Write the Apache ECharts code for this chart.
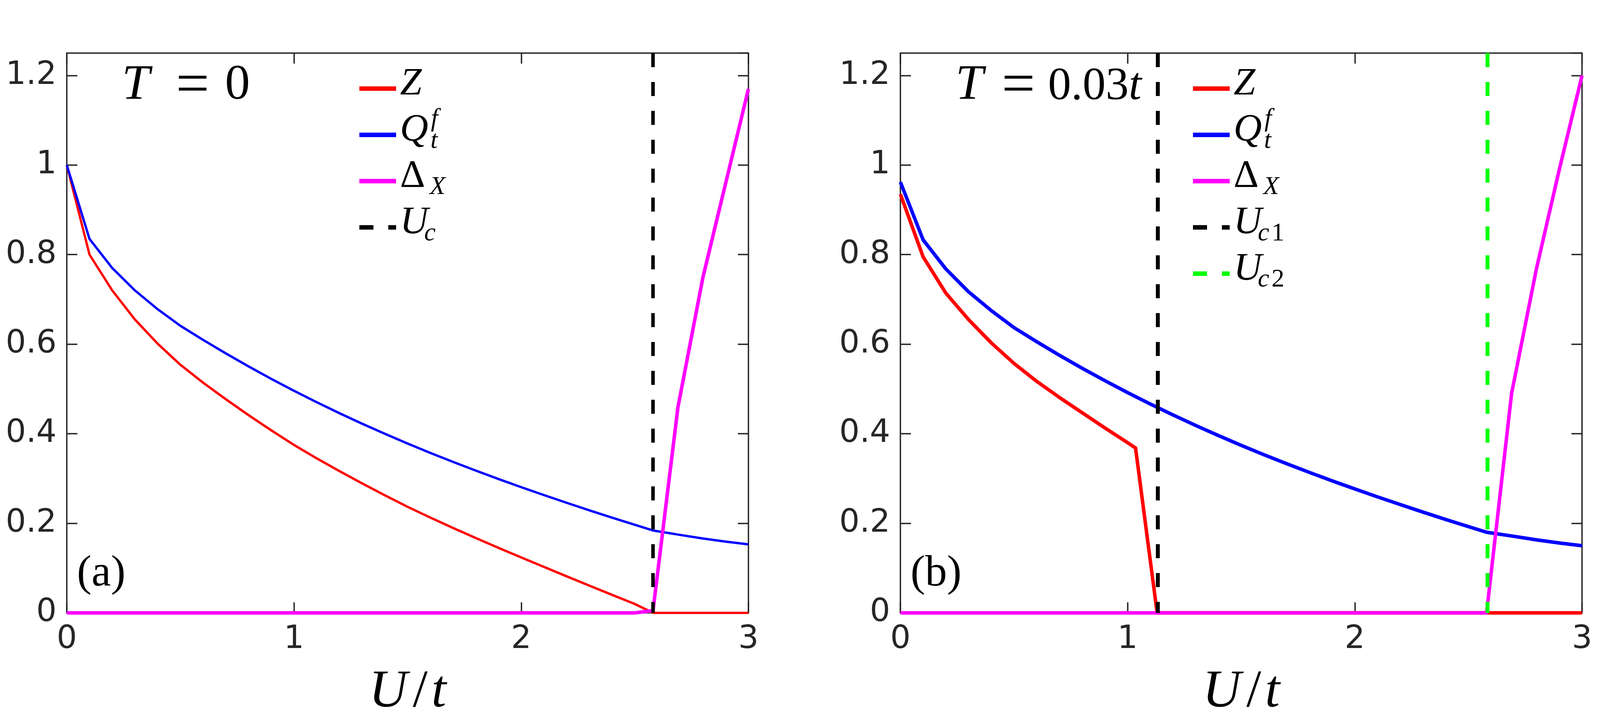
<!DOCTYPE html>
<html>
<head>
<meta charset="utf-8">
<script src="https://cdn.jsdelivr.net/npm/echarts@6/dist/echarts.min.js"></script>
<style>
html,body{margin:0;padding:0;background:#ffffff;}
#chart{width:4262px;height:1847px;}
</style>
</head>
<body>
<div id="chart"></div>
<script>
// ---------------- data ----------------
// Panel (a): T = 0
const U_A   = [0,0.1,0.2,0.3,0.4,0.5,0.6,0.7,0.8,0.9,1.0,1.1,1.2,1.3,1.4,1.5,1.6,1.7,1.8,1.9,2.0,2.1,2.2,2.3,2.4,2.5,2.58,2.7,2.8,2.9,3.0];
const Z_A   = [1.0,0.80,0.72,0.655,0.601,0.554,0.514,0.477,0.4415,0.4075,0.375,0.345,0.3165,0.289,0.2625,0.2368,0.2128,0.1896,0.1671,0.1452,0.1238,0.1026,0.0816,0.0608,0.0402,0.0198,0,0,0,0,0];
const Q_A   = [1.0,0.835,0.77,0.72,0.678,0.641,0.6095,0.5793,0.5503,0.5225,0.4959,0.4704,0.4459,0.4224,0.3998,0.3781,0.3572,0.3371,0.3177,0.2989,0.2807,0.263,0.2458,0.229,0.2126,0.1966,0.184,0.174,0.166,0.159,0.153];
const D_A_U = [0,2.5,2.58,2.69,2.8,2.9,3.0];
const D_A   = [0,0,0.005,0.46,0.75,0.96,1.17];
const UC_A  = 2.58;

// Panel (b): T = 0.03t
const Z_B_U = [0,0.1,0.2,0.3,0.4,0.5,0.6,0.7,0.8,0.9,1.0,1.035,1.13,3.0];
const Z_B   = [0.935,0.795,0.714,0.655,0.603,0.557,0.517,0.481,0.447,0.413,0.38,0.368,0,0];
const U_B   = [0,0.1,0.2,0.3,0.4,0.5,0.6,0.7,0.8,0.9,1.0,1.1,1.2,1.3,1.4,1.5,1.6,1.7,1.8,1.9,2.0,2.1,2.2,2.3,2.4,2.5,2.58,2.7,2.8,2.9,3.0];
const Q_B   = [0.962,0.833,0.768,0.717,0.675,0.637,0.6055,0.5753,0.5463,0.5185,0.4919,0.4664,0.4419,0.4184,0.3958,0.3741,0.3532,0.3331,0.3137,0.2949,0.2767,0.259,0.2418,0.225,0.2086,0.1926,0.18,0.171,0.163,0.156,0.15];
const D_B_U = [0,2.58,2.69,2.8,2.9,3.0];
const D_B   = [0,0,0.49,0.77,0.99,1.2];
const UC1_B = 1.133;
const UC2_B = 2.584;

// dashed marker lines span the full y range
const DASH_Y  = [1.25, 0];

// axes
const X_RANGE = [0, 3];
const X_STEP  = 1;
const Y_RANGE = [0, 1.25];
const Y_STEP  = 0.2;

// ---------------- layout / style ----------------
const GRIDS = [
  {left: 171, top: 136, width: 1745, height: 1435},
  {left: 2305, top: 136, width: 1745, height: 1435}
];
const AXIS_COLOR = '#262626';
const SERIF = 'Liberation Serif';
const SANS = 'DejaVu Sans';
const DASH = [36, 38];
const MID = 0.3375; // canvas "middle" offset above the baseline, in em

function pairs(xs, ys) { return xs.map((x, k) => [x, ys[k]]); }
function vline(x) { return DASH_Y.map(y => [x, y]); }

function lineSeries(name, data, color, width, gi, dash, z) {
  return {
    name: name, type: 'line', xAxisIndex: gi * 2, yAxisIndex: gi * 2,
    data: data, symbol: 'none', showSymbol: false, clip: false, silent: true,
    animation: false, z: z,
    lineStyle: {color: color, width: width, type: dash || 'solid', cap: 'butt', join: 'round'},
    itemStyle: {color: color},
    emphasis: {disabled: true}
  };
}

function yLabel(v) {
  const r = Math.round(v / Y_STEP);
  if (Math.abs(v - r * Y_STEP) > 1e-6) return '';
  return String(+(r * Y_STEP).toFixed(1));
}

const xAxes = [], yAxes = [];
GRIDS.forEach((g, i) => {
  const tick = {show: true, inside: true, length: 27, lineStyle: {color: AXIS_COLOR, width: 3.5}};
  const line = {show: true, onZero: false, lineStyle: {color: AXIS_COLOR, width: 3.5}};
  xAxes.push({
    type: 'value', gridIndex: i, position: 'bottom', min: X_RANGE[0], max: X_RANGE[1], interval: X_STEP,
    axisLine: line, axisTick: tick, splitLine: {show: false},
    axisLabel: {fontFamily: SANS, fontSize: 82, color: AXIS_COLOR, margin: 28},
    name: '{i|U}{r|/}{i|t}', nameLocation: 'middle', nameGap: 136,
    nameTextStyle: {
      fontFamily: SERIF, fontSize: 136, color: '#000',
      rich: {
        i: {fontFamily: SERIF, fontStyle: 'italic', fontSize: 136, color: '#000'},
        r: {fontFamily: SERIF, fontSize: 136, color: '#000', padding: [0, 10, 0, 14]}
      }
    }
  });
  xAxes.push({
    type: 'value', gridIndex: i, position: 'top', min: X_RANGE[0], max: X_RANGE[1], interval: X_STEP,
    axisLine: line, axisTick: tick, splitLine: {show: false}, axisLabel: {show: false}
  });
  yAxes.push({
    type: 'value', gridIndex: i, position: 'left', min: Y_RANGE[0], max: Y_RANGE[1], interval: Y_STEP,
    axisLine: line, axisTick: tick, splitLine: {show: false},
    axisLabel: {fontFamily: SANS, fontSize: 82, color: AXIS_COLOR, margin: 26, formatter: yLabel, showMaxLabel: false}
  });
  yAxes.push({
    type: 'value', gridIndex: i, position: 'right', min: Y_RANGE[0], max: Y_RANGE[1], interval: Y_STEP,
    axisLine: line, axisTick: tick, splitLine: {show: false}, axisLabel: {show: false}
  });
});

const series = [
  lineSeries('Z', pairs(U_A, Z_A), '#ff0000', 6, 0, null, 2),
  lineSeries('Q_t^f', pairs(U_A, Q_A), '#0000ff', 6, 0, null, 3),
  lineSeries('Δ_X', pairs(D_A_U, D_A), '#ff00ff', 9, 0, null, 4),
  lineSeries('U_c', vline(UC_A), '#000000', 9, 0, DASH, 5),
  lineSeries('Z (b)', pairs(Z_B_U, Z_B), '#ff0000', 9, 1, null, 2),
  lineSeries('Q_t^f (b)', pairs(U_B, Q_B), '#0000ff', 9, 1, null, 3),
  lineSeries('Δ_X (b)', pairs(D_B_U, D_B), '#ff00ff', 9, 1, null, 4),
  lineSeries('U_c1', vline(UC1_B), '#000000', 10, 1, DASH, 5),
  lineSeries('U_c2', vline(UC2_B), '#00ff00', 10, 1, DASH, 5)
];

// ---------------- text helpers ----------------
function txtBase(x, baseline, text, size, italic, align) {
  return {
    type: 'text', x: x, y: baseline - MID * size, silent: true, z: 100,
    style: {text: text, fontFamily: SERIF, fontSize: size, fontStyle: italic ? 'italic' : 'normal',
            fill: '#000', align: align || 'left', verticalAlign: 'middle'}
  };
}

const graphics = [];

// ---------------- legend (keys + math labels) ----------------
const LEG_X = 749;          // offset of key lines from the grid's left edge
const LEG_Y0 = 227, LEG_DY = 118.5;
const LEG_ROWS = [
  [
    {color: '#ff0000', main: 'Z', it: true},
    {color: '#0000ff', main: 'Q', it: true, sub: [['t', true, 182]], sup: ['f', 183]},
    {color: '#ff00ff', main: 'Δ', it: false, sub: [['X', true, 180]]},
    {color: '#000000', main: 'U', it: true, dash: true, sub: [['c', true, 166]]}
  ],
  [
    {color: '#ff0000', main: 'Z', it: true},
    {color: '#0000ff', main: 'Q', it: true, sub: [['t', true, 182]], sup: ['f', 183]},
    {color: '#ff00ff', main: 'Δ', it: false, sub: [['X', true, 180]]},
    {color: '#000000', main: 'U', it: true, dash: true, sub: [['c', true, 166], ['1', false, 201]]},
    {color: '#00ff00', main: 'U', it: true, dash: true, sub: [['c', true, 166], ['2', false, 201]]}
  ]
];
GRIDS.forEach((g, gi) => {
  const L = g.left + LEG_X;
  LEG_ROWS[gi].forEach((row, r) => {
    const y = LEG_Y0 + r * LEG_DY;
    graphics.push({
      type: 'line', silent: true, z: 100,
      shape: {x1: L, y1: y, x2: L + 94, y2: y},
      style: {stroke: row.color, lineWidth: 11.5, lineDash: row.dash ? DASH : null, lineCap: 'butt'}
    });
    const base = y + 22;
    graphics.push(txtBase(L + 104, base, row.main, 100, row.it, 'left'));
    (row.sub || []).forEach(s => graphics.push(txtBase(L + s[2], base + 16, s[0], 66, s[1], 'left')));
    if (row.sup) graphics.push(txtBase(L + row.sup[1], base - 40, row.sup[0], 66, true, 'left'));
  });
});

// ---------------- panel annotations ----------------
GRIDS.forEach((g, i) => {
  graphics.push(txtBase(g.left + 26, 1508, i === 0 ? '(a)' : '(b)', 112, false, 'left'));
  graphics.push(txtBase(g.left + 141, 263, 'T', 128, true, 'left'));
});
graphics.push(txtBase(GRIDS[0].left + 322, 275, '=', 152, false, 'center'));
graphics.push(txtBase(GRIDS[0].left + 437, 263, '0', 128, false, 'center'));
graphics.push(txtBase(GRIDS[1].left + 302, 275, '=', 152, false, 'center'));
graphics.push({
  type: 'text', x: GRIDS[1].left + 378, y: 263 - MID * 118, silent: true, z: 100,
  style: {text: '{r|0.03}{i|t}', fontFamily: SERIF, fontSize: 118, fill: '#000', align: 'left', verticalAlign: 'middle',
          rich: {r: {fontFamily: SERIF, fontSize: 118, fill: '#000'},
                 i: {fontFamily: SERIF, fontSize: 118, fontStyle: 'italic', fill: '#000'}}}
});

const chart = echarts.init(document.getElementById('chart'), null, {renderer: 'canvas'});
chart.setOption({
  animation: false,
  backgroundColor: '#ffffff',
  grid: GRIDS.map(g => Object.assign({containLabel: false}, g)),
  xAxis: xAxes,
  yAxis: yAxes,
  series: series,
  graphic: graphics
});
</script>
</body>
</html>
